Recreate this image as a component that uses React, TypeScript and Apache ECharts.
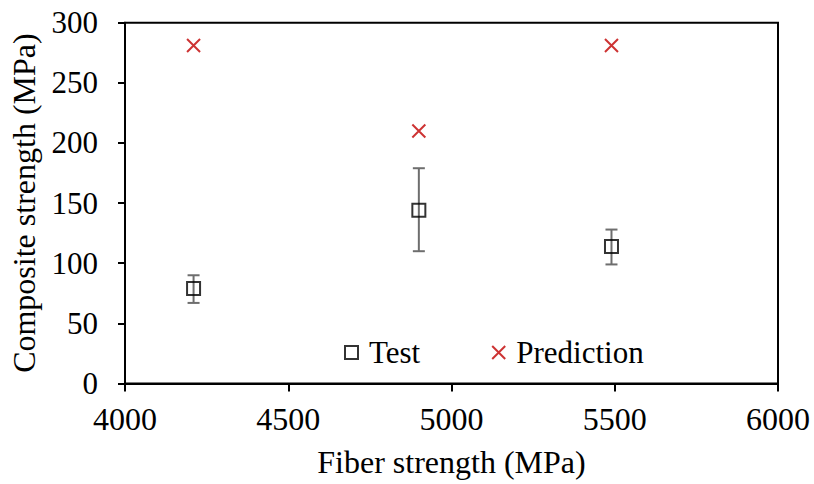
import React, { useEffect, useRef } from "react";
import * as echarts from "echarts";

const fiberStrength = [4210, 4900, 5490];
const testMean = [79, 144, 114];
const testUpper = [90, 179, 128];
const testLower = [67, 110, 99];
const prediction = [281, 210, 281];

const FONT = "Liberation Serif";
const CROSS = "path://M0,0L10,10M10,0L0,10";

export default function App() {
  const ref = useRef<HTMLDivElement>(null);
  useEffect(() => {
    if (!ref.current) return;
    const chart = echarts.init(ref.current, null, { renderer: "svg" });
    const errData = fiberStrength.map((x, i) => [x, testLower[i], testUpper[i]]);
    chart.setOption({
      animation: false,
      textStyle: { fontFamily: FONT, color: "#000" },
      grid: {
        left: 124.5,
        right: 36,
        top: 22.7,
        bottom: 100.5,
        show: true,
        borderColor: "#000",
        borderWidth: 2,
      },
      legend: {
        left: 339,
        top: 332,
        itemWidth: 13,
        itemHeight: 13,
        itemGap: 71,
        data: [
          { name: "Test", icon: "rect" },
          { name: "Prediction", icon: CROSS },
        ],
        textStyle: { fontFamily: FONT, fontSize: 31, color: "#000", padding: [0, 0, 0, 6] },
      },
      xAxis: {
        type: "value",
        min: 4000,
        max: 6000,
        interval: 500,
        name: "Fiber strength (MPa)",
        nameLocation: "middle",
        nameGap: 62,
        nameTextStyle: { fontFamily: FONT, fontSize: 32, color: "#000" },
        axisLine: { show: true, lineStyle: { color: "#000", width: 2 } },
        axisTick: { show: true, inside: false, length: 8, lineStyle: { color: "#000", width: 2 } },
        axisLabel: { fontFamily: FONT, fontSize: 32, color: "#000", margin: 19, formatter: (v: number) => String(v) },
        splitLine: { show: false },
      },
      yAxis: {
        type: "value",
        min: 0,
        max: 300,
        interval: 50,
        name: "Composite strength (MPa)",
        nameLocation: "middle",
        nameGap: 85,
        nameTextStyle: { fontFamily: FONT, fontSize: 32, color: "#000" },
        axisLine: { show: true, lineStyle: { color: "#000", width: 2 } },
        axisTick: { show: true, inside: false, length: 7, lineStyle: { color: "#000", width: 2 } },
        axisLabel: { fontFamily: FONT, fontSize: 31, color: "#000", margin: 27, formatter: (v: number) => String(v) },
        splitLine: { show: false },
      },
      series: [
        {
          name: "TestErr",
          type: "custom",
          data: errData,
          z: 1,
          renderItem: (params: any, api: any) => {
            const x = api.value(0);
            const lo = api.coord([x, api.value(1)]);
            const hi = api.coord([x, api.value(2)]);
            const w = 6;
            const style = { stroke: "#6e6e6e", lineWidth: 2 };
            return {
              type: "group",
              children: [
                { type: "line", shape: { x1: lo[0], y1: lo[1], x2: hi[0], y2: hi[1] }, style },
                { type: "line", shape: { x1: hi[0] - w, y1: hi[1], x2: hi[0] + w, y2: hi[1] }, style },
                { type: "line", shape: { x1: lo[0] - w, y1: lo[1], x2: lo[0] + w, y2: lo[1] }, style },
              ],
            };
          },
        },
        {
          name: "Test",
          type: "scatter",
          z: 3,
          symbol: "rect",
          symbolSize: 13,
          data: fiberStrength.map((x, i) => [x, testMean[i]]),
          itemStyle: { color: "rgba(255,255,255,0)", borderColor: "#000", borderWidth: 2 },
        },
        {
          name: "Prediction",
          type: "scatter",
          z: 3,
          symbol: CROSS,
          symbolSize: 13,
          data: fiberStrength.map((x, i) => [x, prediction[i]]),
          itemStyle: { color: "#C00000", borderColor: "#C00000", borderWidth: 2 },
        },
      ],
    });
    return () => chart.dispose();
  }, []);
  return <div ref={ref} style={{ width: 814, height: 484, position: "absolute", left: 0, top: 0 }} />;
}
